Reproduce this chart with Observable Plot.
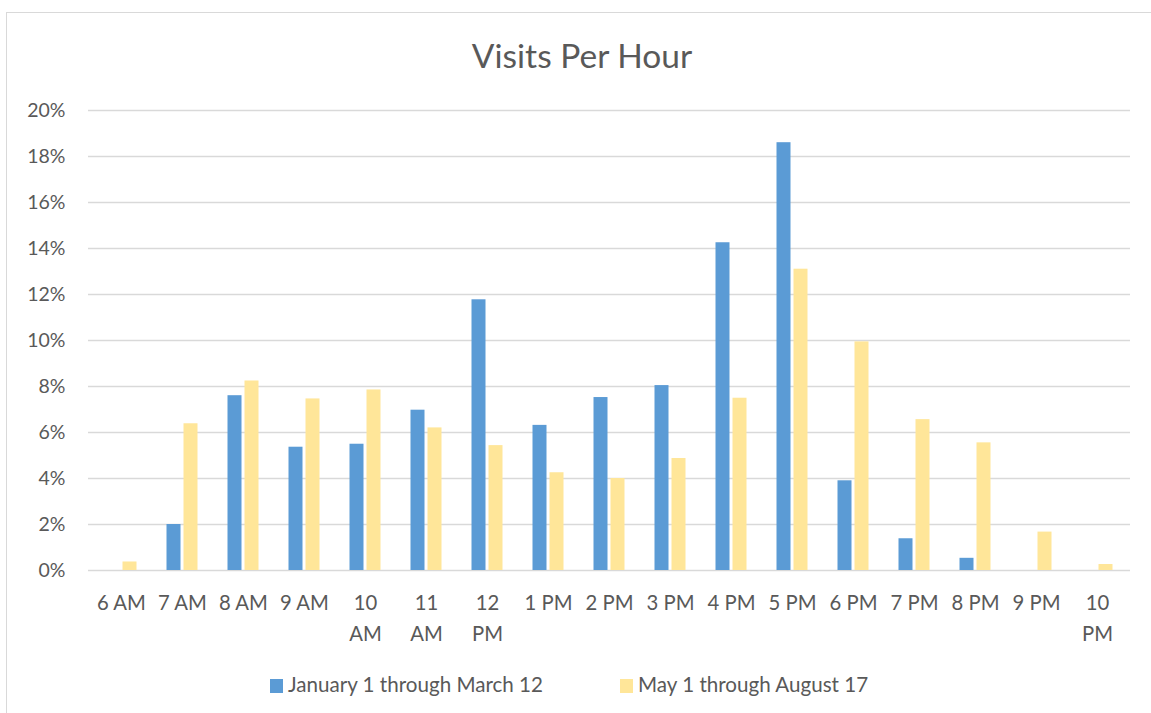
<!DOCTYPE html>
<html>
<head>
<meta charset="utf-8">
<script src="https://cdn.jsdelivr.net/npm/d3@7"></script>
<script src="https://cdn.jsdelivr.net/npm/@observablehq/plot@0.6"></script>
<style>
  html, body { margin: 0; padding: 0; background: #fff; }
  #wrap { position: relative; width: 1151px; height: 713px; overflow: hidden; font-family: Lato, "Liberation Sans", sans-serif; color: #595959; }
  #frame { position: absolute; left: 6px; top: 12px; width: 1170px; height: 720px; border: 1.5px solid #d9d9d9; box-sizing: border-box; }
  #title { position: absolute; left: 0; width: 1164px; top: 34px; text-align: center; font-size: 33.5px; line-height: 42px; color: #595959; }
  #chart { position: absolute; left: 0; top: 80px; }
  #legend { position: absolute; top: 671px; left: 0; width: 1151px; font-size: 20.6px; line-height: 26px; color: #595959; }
  .item { position: absolute; top: 0; white-space: nowrap; }
  .sw { display: inline-block; width: 13px; height: 14px; margin-right: 5px; vertical-align: -1px; }
</style>
</head>
<body>
<div id="wrap">
  <div id="frame"></div>
  <div id="title">Visits Per Hour</div>
  <div id="chart"></div>
  <div id="legend"></div>
</div>
<script>
const hours = ["6 AM","7 AM","8 AM","9 AM","10 AM","11 AM","12 PM","1 PM","2 PM","3 PM","4 PM","5 PM","6 PM","7 PM","8 PM","9 PM","10 PM"];
const tickLabels = ["6 AM","7 AM","8 AM","9 AM","10\nAM","11\nAM","12\nPM","1 PM","2 PM","3 PM","4 PM","5 PM","6 PM","7 PM","8 PM","9 PM","10\nPM"];
const seriesNames = ["January 1 through March 12", "May 1 through August 17"];
const seriesColors = ["#5b9bd5", "#ffe699"];
const janMar = [0, 2.0, 7.6, 5.36, 5.49, 6.97, 11.77, 6.31, 7.52, 8.04, 14.25, 18.6, 3.9, 1.38, 0.53, 0, 0];
const mayAug = [0.37, 6.38, 8.24, 7.46, 7.85, 6.2, 5.43, 4.25, 4.0, 4.87, 7.49, 13.1, 9.94, 6.56, 5.55, 1.67, 0.26];
const yTicks = [0, 2, 4, 6, 8, 10, 12, 14, 16, 18, 20];

const data = [];
hours.forEach((h, i) => {
  data.push({hour: h, series: seriesNames[0], value: janMar[i] / 100});
  data.push({hour: h, series: seriesNames[1], value: mayAug[i] / 100});
});
const labelOf = new Map(hours.map((h, i) => [h, tickLabels[i]]));

const chart = Plot.plot({
  width: 1151,
  height: 570,
  marginTop: 30,
  marginBottom: 80,
  marginLeft: 88,
  marginRight: 21,
  style: {fontFamily: "Lato, 'Liberation Sans', sans-serif", color: "#595959", background: "transparent"},
  x: {domain: hours, paddingInner: 0.772, paddingOuter: 0.386, align: 0.5, axis: null},
  y: {domain: [0, 0.20], axis: null},
  color: {domain: seriesNames, range: seriesColors},
  marks: [
    Plot.ruleY(yTicks.map(d => d / 100), {stroke: "#d9d9d9", strokeWidth: 1.5}),
    Plot.barY(data.filter(d => d.series === seriesNames[0]), {x: "hour", y: "value", fill: "series", dx: -8.5}),
    Plot.barY(data.filter(d => d.series === seriesNames[1]), {x: "hour", y: "value", fill: "series", dx: 8.5}),
    Plot.axisY(yTicks.map(d => d / 100), {tickSize: 0, tickPadding: 23, tickFormat: d3.format(".0%"), fontSize: 19.5, fill: "#595959", label: null}),
    Plot.axisX({tickSize: 0, tickPadding: 18, tickFormat: d => labelOf.get(d), fontSize: 20.3, lineHeight: 1.5, fill: "#595959", label: null})
  ]
});
document.getElementById("chart").appendChild(chart);

const legend = document.getElementById("legend");
const lefts = [270, 620];
seriesNames.forEach((name, i) => {
  const item = document.createElement("div");
  item.className = "item";
  item.style.left = lefts[i] + "px";
  const sw = document.createElement("span");
  sw.className = "sw";
  sw.style.background = seriesColors[i];
  item.appendChild(sw);
  item.appendChild(document.createTextNode(name));
  legend.appendChild(item);
});
</script>
</body>
</html>
